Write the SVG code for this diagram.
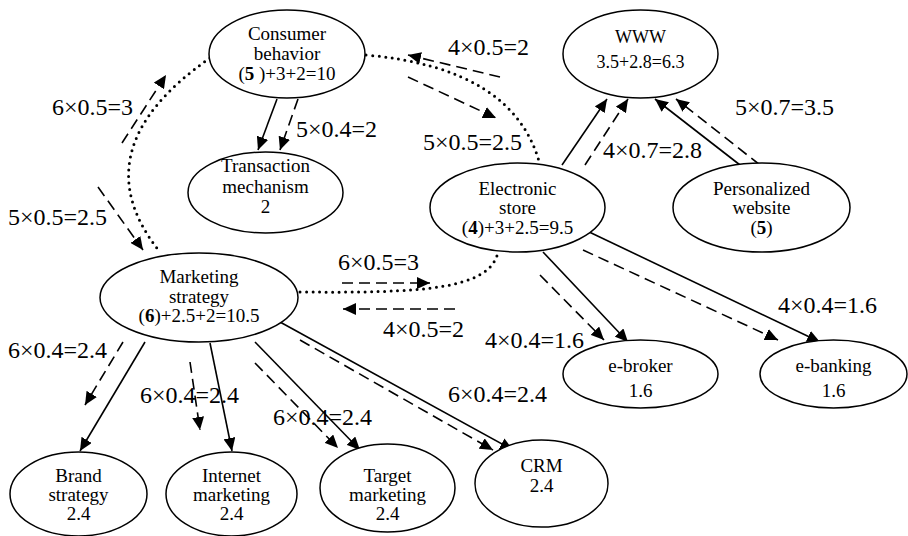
<svg xmlns="http://www.w3.org/2000/svg" width="908" height="536" viewBox="0 0 908 536" font-family="'Liberation Serif', 'Times New Roman', Times, serif">
  <style>
    .node ellipse { fill: #fff; stroke: #000; stroke-width: 1.5; }
    .node text { font-size: 19px; text-anchor: middle; fill: #000; }
    .lbl { font-size: 24px; fill: #000; }
    .solid { fill: none; stroke: #000; stroke-width: 1.6; marker-end: url(#ah); }
    .dash { fill: none; stroke: #000; stroke-width: 1.6; stroke-dasharray: 11 6; marker-end: url(#ah); }
    .dot { fill: none; stroke: #000; stroke-width: 3; stroke-linecap: round; stroke-dasharray: 0 6.5; }
    .b { font-weight: bold; }
  </style>
  <defs>
    <marker id="ah" markerUnits="userSpaceOnUse" markerWidth="14" markerHeight="12" refX="13" refY="6" orient="auto">
      <path d="M0,0 L13,6 L0,12 z" fill="#000"/>
    </marker>
  </defs>
  <rect width="908" height="536" fill="#fff"/>

  <!-- connectors -->
  <g id="connectors">
    <path class="dot" d="M210,58 Q78,150 160,252"/>
    <path class="dot" d="M366,55 Q515,68 540,165"/>
    <path class="dot" d="M300,292 C420,293 490,290 498,252"/>

    <path class="solid" d="M277,99 L258,150"/>
    <path class="dash" d="M298,99 L280,150"/>

    <path class="dash" d="M122,143 L166,75"/>
    <path class="dash" d="M98,187 L143,250"/>

    <path class="dash" d="M500,77 L408,55"/>
    <path class="dash" d="M408,77 L496,118"/>

    <path class="solid" d="M562,165 L607,99"/>
    <path class="dash" d="M585,165 L628,99"/>
    <path class="solid" d="M740,165 L655,99"/>
    <path class="dash" d="M760,165 L676,99"/>

    <path class="dash" d="M342,283 L430,283"/>
    <path class="dash" d="M455,309 L343,309"/>

    <path class="solid" d="M543,252 L628,342"/>
    <path class="dash" d="M540,275 L604,340"/>
    <path class="solid" d="M585,230 L820,342"/>
    <path class="dash" d="M583,250 L778,340"/>

    <path class="solid" d="M145,342 L80,451"/>
    <path class="dash" d="M123,342 L85,405"/>
    <path class="solid" d="M210,343 L232,451"/>
    <path class="dash" d="M190,362 L200,430"/>
    <path class="solid" d="M255,342 L360,450"/>
    <path class="dash" d="M255,363 L338,448"/>
    <path class="solid" d="M280,322 L513,450"/>
    <path class="dash" d="M300,340 L493,450"/>

    <!-- weight labels -->
    <text class="lbl" x="296" y="137">5×0.4=2</text>
    <text class="lbl" x="52" y="115">6×0.5=3</text>
    <text class="lbl" x="8" y="225">5×0.5=2.5</text>
    <text class="lbl" x="448" y="55">4×0.5=2</text>
    <text class="lbl" x="423" y="150">5×0.5=2.5</text>
    <text class="lbl" x="603" y="158">4×0.7=2.8</text>
    <text class="lbl" x="735" y="115">5×0.7=3.5</text>
    <text class="lbl" x="338" y="270">6×0.5=3</text>
    <text class="lbl" x="383" y="337">4×0.5=2</text>
    <text class="lbl" x="485" y="348">4×0.4=1.6</text>
    <text class="lbl" x="778" y="313">4×0.4=1.6</text>
    <text class="lbl" x="8" y="358">6×0.4=2.4</text>
    <text class="lbl" x="140" y="403">6×0.4=2.4</text>
    <text class="lbl" x="273" y="425">6×0.4=2.4</text>
    <text class="lbl" x="448" y="402">6×0.4=2.4</text>
  </g>

  <!-- nodes -->
  <g id="consumer-behavior" class="node">
    <ellipse cx="287" cy="54" rx="78" ry="44"/>
    <text x="287" y="40">Consumer</text>
    <text x="287" y="60">behavior</text>
    <text x="287" y="80">(<tspan class="b">5</tspan> )+3+2=10</text>
  </g>
  <g id="transaction-mechanism" class="node">
    <ellipse cx="265.5" cy="192.5" rx="77.5" ry="40.5"/>
    <text x="265.5" y="172">Transaction</text>
    <text x="265.5" y="193">mechanism</text>
    <text x="265.5" y="213">2</text>
  </g>
  <g id="www" class="node">
    <ellipse cx="640.5" cy="54" rx="77.5" ry="44"/>
    <text x="640.5" y="43" style="font-size:18px">WWW</text>
    <text x="640.5" y="68" style="font-size:18px">3.5+2.8=6.3</text>
  </g>
  <g id="personalized-website" class="node">
    <ellipse cx="761.5" cy="207.5" rx="88.5" ry="44.5"/>
    <text x="761.5" y="195">Personalized</text>
    <text x="761.5" y="214">website</text>
    <text x="761.5" y="234">(<tspan class="b">5</tspan>)</text>
  </g>
  <g id="electronic-store" class="node">
    <ellipse cx="517.5" cy="207.5" rx="87.5" ry="44.5"/>
    <text x="517.5" y="195">Electronic</text>
    <text x="517.5" y="214">store</text>
    <text x="517.5" y="234">(<tspan class="b">4</tspan>)+3+2.5=9.5</text>
  </g>
  <g id="marketing-strategy" class="node">
    <ellipse cx="199" cy="297.5" rx="99" ry="44.5"/>
    <text x="199" y="283">Marketing</text>
    <text x="199" y="303">strategy</text>
    <text x="199" y="322">(<tspan class="b">6</tspan>)+2.5+2=10.5</text>
  </g>
  <g id="brand-strategy" class="node">
    <ellipse cx="78.5" cy="494" rx="68.5" ry="42"/>
    <text x="78.5" y="482">Brand</text>
    <text x="78.5" y="501">strategy</text>
    <text x="78.5" y="520">2.4</text>
  </g>
  <g id="internet-marketing" class="node">
    <ellipse cx="231.5" cy="494" rx="65.5" ry="42"/>
    <text x="231.5" y="482">Internet</text>
    <text x="231.5" y="501">marketing</text>
    <text x="231.5" y="520">2.4</text>
  </g>
  <g id="target-marketing" class="node">
    <ellipse cx="387.5" cy="488" rx="67.5" ry="44"/>
    <text x="387.5" y="482">Target</text>
    <text x="387.5" y="501">marketing</text>
    <text x="387.5" y="520">2.4</text>
  </g>
  <g id="crm" class="node">
    <ellipse cx="541.5" cy="483.5" rx="66.5" ry="43.5"/>
    <text x="541.5" y="472">CRM</text>
    <text x="541.5" y="492">2.4</text>
  </g>
  <g id="e-broker" class="node">
    <ellipse cx="640.5" cy="374" rx="77.5" ry="34"/>
    <text x="640.5" y="372">e-broker</text>
    <text x="640.5" y="397">1.6</text>
  </g>
  <g id="e-banking" class="node">
    <ellipse cx="833.5" cy="374" rx="73.5" ry="34"/>
    <text x="833.5" y="372">e-banking</text>
    <text x="833.5" y="397">1.6</text>
  </g>
</svg>
